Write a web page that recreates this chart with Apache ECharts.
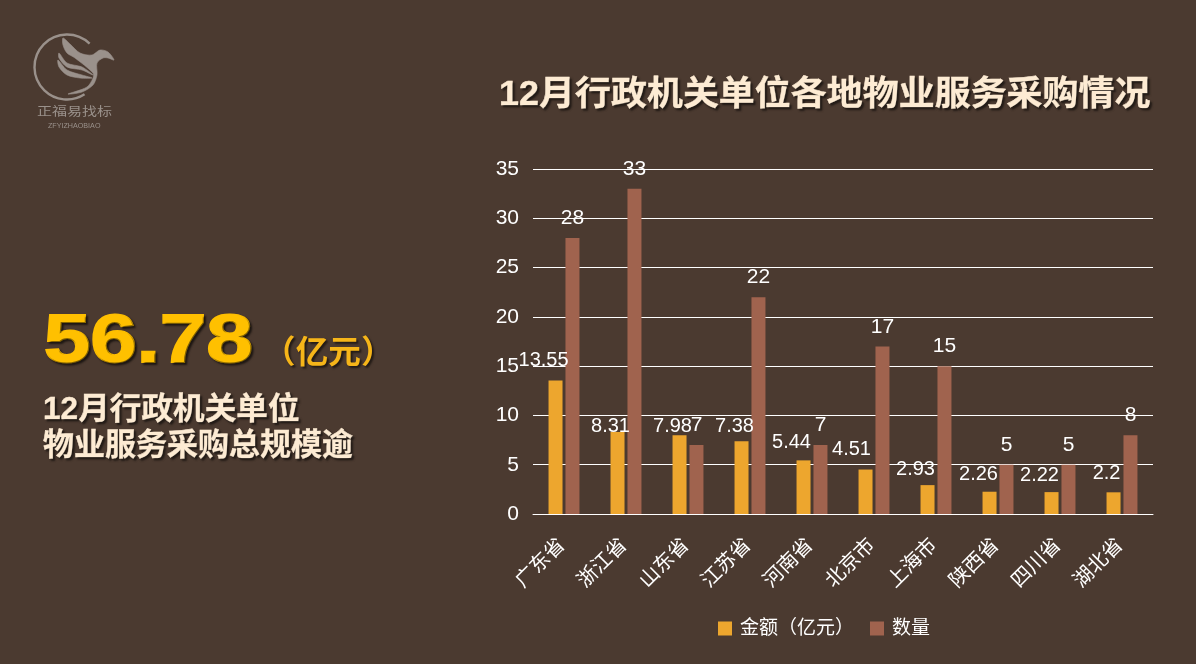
<!DOCTYPE html>
<html><head><meta charset="utf-8">
<style>html,body{margin:0;padding:0;background:#4b3a30}#c{width:1196px;height:664px}</style>
<script src="https://cdn.jsdelivr.net/npm/echarts@6/dist/echarts.min.js"></script>
</head><body><div id="c"></div>
<script>
const categories = ['广东省','浙江省','山东省','江苏省','河南省','北京市','上海市','陕西省','四川省','湖北省'];
const amount = [13.55,8.31,7.98,7.38,5.44,4.51,2.93,2.26,2.22,2.2];
const count = [28,33,7,22,7,17,15,5,5,8];
const amountLabelShift = [[-12,-1],[-7,13],[-7,10],[-7,4],[-12,1],[-14,-1],[-12,3],[-11,2],[-12,2],[-7,0]];
const FONT = '"Liberation Sans","Noto Sans CJK SC",sans-serif';
const CREAM = '#fdebd3', GOLD = '#ffc000', LOGO = '#9a918b';
const shadow = {textShadowColor:'rgba(0,0,0,0.55)',textShadowBlur:2,textShadowOffsetX:2,textShadowOffsetY:2};
const txt = (x,y,text,style,extra) => Object.assign({type:'text',x,y,silent:true,style:Object.assign({text,fontFamily:FONT,verticalAlign:'middle',lineJoin:'round'},style)},extra||{});
const poly = pts => ({type:'polygon',silent:true,shape:{points:pts,smooth:0.3},style:{fill:LOGO,stroke:LOGO,lineWidth:0.6}});
const chart = echarts.init(document.getElementById('c'),null,{renderer:'canvas'});
chart.setOption({
  animation:false,
  backgroundColor:'#4b3a30',
  textStyle:{fontFamily:FONT},
  grid:{left:533,right:43,top:169,bottom:150},
  legend:{bottom:21,left:713,itemWidth:14,itemHeight:14,itemGap:16,icon:'rect',
    textStyle:{color:'#fff',fontSize:19,fontFamily:FONT,padding:[0,0,0,3]},data:['金额（亿元）','数量']},
  xAxis:{type:'category',data:categories,axisTick:{show:false},
    axisLine:{lineStyle:{color:'#fff',width:1}},
    axisLabel:{color:'#fff',fontSize:20,rotate:45,margin:26,interval:0,padding:[0,3,0,0],fontFamily:FONT}},
  yAxis:{type:'value',min:0,max:35,interval:5,axisLine:{show:false},axisTick:{show:false},
    splitLine:{lineStyle:{color:'#fff',width:1}},
    axisLabel:{color:'#fff',fontSize:21,margin:14,fontFamily:FONT}},
  series:[
    {name:'金额（亿元）',type:'bar',barWidth:14,barGap:'21%',itemStyle:{color:'#eda62e'},
     data:amount.map((v,i)=>({value:v,label:{offset:amountLabelShift[i]}})),
     label:{show:true,position:'top',distance:9,color:'#fff',fontSize:20,fontFamily:FONT}},
    {name:'数量',type:'bar',barWidth:14,itemStyle:{color:'#a0634e'},data:count,
     label:{show:true,position:'top',distance:9,color:'#fff',fontSize:21,fontFamily:FONT}}
  ],
  graphic:[
    txt(499,96,'12月行政机关单位各地物业服务采购情况',Object.assign({fontSize:33,fontWeight:'bold',fill:CREAM,stroke:CREAM,lineWidth:0.5},shadow),{scaleX:1.09,scaleY:1.04}),
    txt(44,343,'56.78',{fontSize:69,fontWeight:'bold',fill:GOLD,stroke:GOLD,lineWidth:2,textShadowColor:'rgba(0,0,0,0.5)',textShadowBlur:2,textShadowOffsetX:2,textShadowOffsetY:2},{scaleX:1.21}),
    txt(263,354,'（亿元）',Object.assign({fontSize:32,fontWeight:'bold',fill:'#f6b519'},shadow),{scaleX:1.02}),
    txt(43,410,'12月行政机关单位',Object.assign({fontSize:31,fontWeight:'bold',fill:CREAM,stroke:CREAM,lineWidth:0.5},shadow),{scaleX:1.02}),
    txt(43,446,'物业服务采购总规模逾',Object.assign({fontSize:31,fontWeight:'bold',fill:CREAM,stroke:CREAM,lineWidth:0.5},shadow)),
    {type:'arc',silent:true,shape:{cx:67,cy:67,r:32.5,startAngle:-0.8,endAngle:1.0,clockwise:false},style:{stroke:LOGO,fill:'none',lineWidth:2.4}},
    poly([[63,38],[70,44],[80,53],[92,55],[100,50],[108,52],[114,60],[108,58],[103,58],[97,63],[97,75],[93,85],[82,92],[68,94],[87,87],[93,78],[93,73],[75,58],[67,53],[63,45]]),
    poly([[59,53],[67,63],[82,67],[93,75],[82,70],[67,67],[59,58]]),
    poly([[58,60],[67,70],[82,75],[92,78],[80,78],[67,75],[59,67]]),
    txt(37,113,'正福易找标',{fontSize:12,fill:LOGO},{scaleX:1.25}),
    txt(48,126.5,'ZFYIZHAOBIAO',{fontSize:6.5,fill:LOGO},{scaleX:1.1})
  ]
});
</script></body></html>
